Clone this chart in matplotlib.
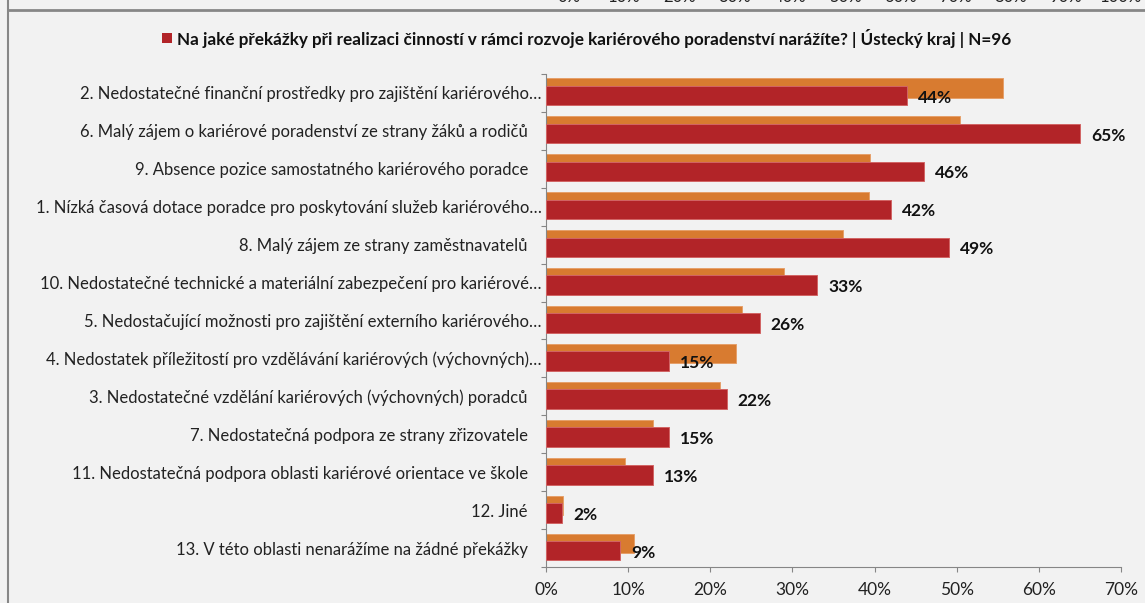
import matplotlib
matplotlib.use("Agg")
import matplotlib.pyplot as plt
import numpy as np
from matplotlib.lines import Line2D

plt.rcParams['font.family'] = ['Lato', 'DejaVu Sans']

categories = [
    "2. Nedostatečné finanční prostředky pro zajištění kariérového…",
    "6. Malý zájem o kariérové poradenství ze strany žáků a rodičů",
    "9. Absence pozice samostatného kariérového poradce",
    "1. Nízká časová dotace poradce pro poskytování služeb kariérového…",
    "8. Malý zájem ze strany zaměstnavatelů",
    "10. Nedostatečné technické a materiální zabezpečení pro kariérové…",
    "5. Nedostačující možnosti pro zajištění externího kariérového…",
    "4. Nedostatek příležitostí pro vzdělávání kariérových (výchovných)…",
    "3. Nedostatečné vzdělání kariérových (výchovných) poradců",
    "7. Nedostatečná podpora ze strany zřizovatele",
    "11. Nedostatečná podpora oblasti kariérové orientace ve škole",
    "12. Jiné",
    "13. V této oblasti nenarážíme na žádné překážky",
]
orange_values = [0.556, 0.504, 0.394, 0.393, 0.362, 0.290, 0.239, 0.231, 0.212, 0.130, 0.096, 0.021, 0.107]
red_values = [0.44, 0.65, 0.46, 0.42, 0.49, 0.33, 0.26, 0.15, 0.22, 0.15, 0.13, 0.02, 0.09]
red_labels = ["44%", "65%", "46%", "42%", "49%", "33%", "26%", "15%", "22%", "15%", "13%", "2%", "9%"]
x_ticks = [0, 0.1, 0.2, 0.3, 0.4, 0.5, 0.6, 0.7]
x_tick_labels = ["0%", "10%", "20%", "30%", "40%", "50%", "60%", "70%"]
top_cut_labels = ["0%", "10%", "20%", "30%", "40%", "50%", "60%", "70%", "80%", "90%", "100%"]
legend_text = "Na jaké překážky při realizaci činností v rámci rozvoje kariérového poradenství narážíte? | Ústecký kraj | N=96"

W, H = 1145, 603
BG = "#F2F2F2"
ORANGE = "#D87B30"
RED = "#B22428"
GRAY = "#868686"
TXT = "#222222"

fig = plt.figure(figsize=(W / 100, H / 100), dpi=100, facecolor=BG)
ax = fig.add_axes([546 / W, 1 - 567 / H, (1121 - 546) / W, (567 - 74) / H])
ax.set_facecolor(BG)

y = np.arange(len(categories))
h = 0.515
ax.barh(y - 0.125, orange_values, height=h, color=ORANGE, edgecolor="#E6A06A", linewidth=0.7, zorder=2)
ax.barh(y + 0.07, red_values, height=h, color=RED, edgecolor="#D26464", linewidth=0.7, zorder=3)

for yi, v, lab in zip(y, red_values, red_labels):
    ax.annotate(lab, xy=(v, yi + 0.07), xytext=(11, -2), textcoords="offset pixels",
                ha="left", va="center", fontsize=12.5, fontweight="bold", color="#111111", zorder=4)

ax.set_xlim(0, 0.7)
ax.set_ylim(len(categories) - 0.5, -0.5)
ax.set_xticks(x_ticks)
ax.set_xticklabels(x_tick_labels, fontsize=12.5, color=TXT)
ax.set_yticks(y)
ax.set_yticklabels(categories, fontsize=12, color=TXT)
ax.set_yticks(np.arange(-0.5, len(categories) + 0.5, 1.0), minor=True)
ax.tick_params(axis="y", which="major", length=0, pad=13)
ax.tick_params(axis="y", which="minor", length=3.6, color=GRAY, width=0.8, direction="out")
ax.tick_params(axis="x", which="major", length=3.6, color=GRAY, width=0.8, direction="out", pad=7)
for t, lab in zip(ax.yaxis.get_major_ticks(), categories):
    if lab.endswith("…"):
        t.set_pad(3)

for s in ["top", "right"]:
    ax.spines[s].set_visible(False)
for s in ["left", "bottom"]:
    ax.spines[s].set_color(GRAY)
    ax.spines[s].set_linewidth(0.8)

# legend / title
fig.patches.append(plt.Rectangle((162 / W, 1 - 43 / H), 10 / W, 10 / H, transform=fig.transFigure,
                                 facecolor=RED, edgecolor="none"))
fig.text(177 / W, 1 - 38.5 / H, legend_text, ha="left", va="center", fontsize=12.3,
         fontweight="bold", color="#111111")

# frame lines of the surrounding panel
fig.add_artist(Line2D([8 / W, 1], [1 - 9.7 / H, 1 - 9.7 / H], transform=fig.transFigure,
                      color="#878787", linewidth=2.0))
fig.add_artist(Line2D([8.3 / W, 8.3 / W], [0, 1], transform=fig.transFigure,
                      color="#878787", linewidth=1.5))
# cut-off tick labels of the chart above
for i, lab in enumerate(top_cut_labels):
    fig.text((569 + 55.2 * i) / W, 1 - 2.0 / H, lab, ha="center", va="baseline",
             fontsize=12, color=TXT)

fig.savefig("out.png", dpi=100, facecolor=BG)
